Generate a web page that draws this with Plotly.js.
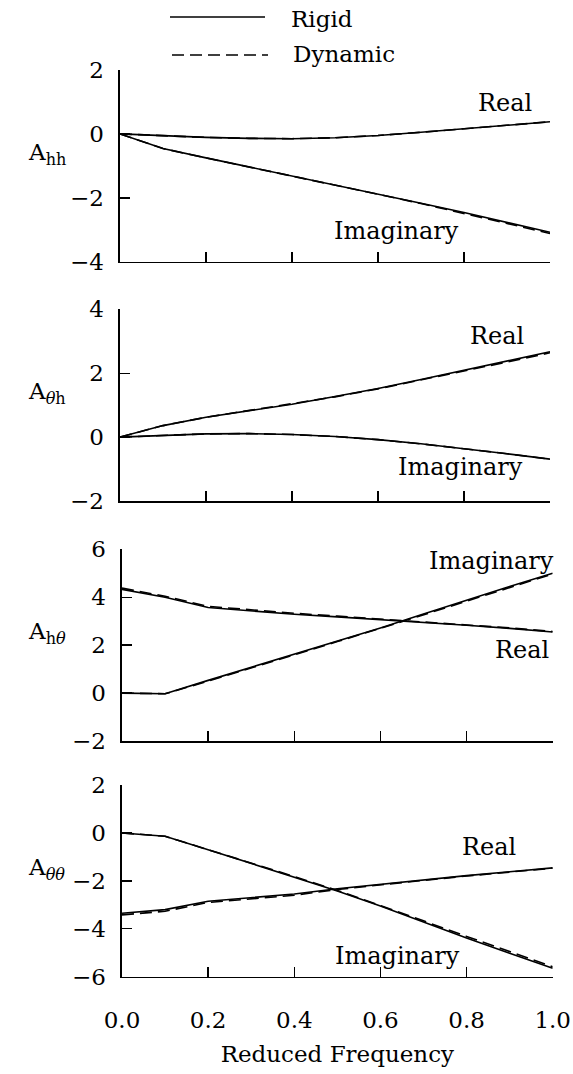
<!DOCTYPE html>
<html>
<head>
<meta charset="utf-8">
<script src="https://cdn.plot.ly/plotly-3.0.1.min.js"></script>
<style>
  html, body { margin: 0; padding: 0; background: #fff; }
  #chart { width: 573px; height: 1074px; }
</style>
</head>
<body>
<div id="chart"></div>
<script>
// reduced frequency samples
const freq = [0.0, 0.1, 0.2, 0.3, 0.4, 0.5, 0.6, 0.7, 0.8, 0.9, 1.0];

// A_hh
const hhRealRigid   = [0, -0.06, -0.11, -0.14, -0.15, -0.12, -0.05, 0.05, 0.16, 0.27, 0.38];
const hhRealDyn     = [0, -0.06, -0.11, -0.14, -0.15, -0.12, -0.05, 0.05, 0.16, 0.27, 0.38];
const hhImagRigid   = [0, -0.46, -0.75, -1.03, -1.32, -1.6, -1.89, -2.17, -2.46, -2.77, -3.08];
const hhImagDyn     = [0, -0.46, -0.75, -1.03, -1.32, -1.6, -1.89, -2.18, -2.48, -2.8, -3.12];

// A_theta h
const thRealRigid   = [0, 0.36, 0.62, 0.83, 1.03, 1.27, 1.52, 1.8, 2.09, 2.38, 2.67];
const thRealDyn     = [0, 0.36, 0.62, 0.83, 1.03, 1.26, 1.51, 1.78, 2.07, 2.35, 2.64];
const thImagRigid   = [0, 0.06, 0.1, 0.11, 0.08, 0.02, -0.08, -0.21, -0.36, -0.52, -0.69];
const thImagDyn     = [0, 0.06, 0.1, 0.11, 0.08, 0.02, -0.08, -0.21, -0.36, -0.52, -0.69];

// A_h theta
const htRealRigid   = [4.33, 4.0, 3.57, 3.42, 3.29, 3.18, 3.07, 2.95, 2.83, 2.7, 2.55];
const htRealDyn     = [4.38, 4.04, 3.62, 3.47, 3.33, 3.21, 3.09, 2.97, 2.85, 2.72, 2.57];
const htImagRigid   = [0, -0.03, 0.53, 1.07, 1.62, 2.17, 2.72, 3.3, 3.88, 4.45, 5.0];
const htImagDyn     = [0, -0.03, 0.5, 1.04, 1.6, 2.15, 2.7, 3.27, 3.85, 4.42, 4.97];

// A_theta theta
const ttRealRigid   = [-3.35, -3.2, -2.85, -2.7, -2.55, -2.33, -2.14, -1.96, -1.78, -1.62, -1.46];
const ttRealDyn     = [-3.42, -3.27, -2.9, -2.75, -2.6, -2.36, -2.16, -1.98, -1.8, -1.63, -1.47];
const ttImagRigid   = [0, -0.14, -0.7, -1.27, -1.84, -2.42, -3.05, -3.72, -4.38, -5.02, -5.65];
const ttImagDyn     = [0, -0.14, -0.7, -1.25, -1.82, -2.4, -3.02, -3.67, -4.32, -4.95, -5.58];

const yRanges = [[-4, 2], [-2, 4], [-2, 6], [-6, 2]];
const yTitles = ['A<sub>hh</sub>', 'A<sub><i>θ</i>h</sub>', 'A<sub>h<i>θ</i></sub>', 'A<sub><i>θθ</i></sub>'];
const xTicks = [0, 0.2, 0.4, 0.6, 0.8, 1.0];
const xTickText = ['0.0', '0.2', '0.4', '0.6', '0.8', '1.0'];

const FONT = 'DejaVu Serif';
const W = 573, H = 1074;

// pixel boxes of the four panels: [left, right, top, bottom]
const boxes = [
    [120, 550, 70, 261.7],
    [120, 550, 309.3, 501],
    [122, 552.7, 549.3, 741],
    [122, 552.7, 785, 976.7]
];

const panels = [
    [hhRealRigid, hhRealDyn, hhImagRigid, hhImagDyn],
    [thRealRigid, thRealDyn, thImagRigid, thImagDyn],
    [htRealRigid, htRealDyn, htImagRigid, htImagDyn],
    [ttRealRigid, ttRealDyn, ttImagRigid, ttImagDyn]
];

const solid = { color: '#000', width: 1.6, dash: 'solid' };
const dashed = { color: '#000', width: 1.6, dash: '12px,6px' };

const traces = [];
panels.forEach((series, i) => {
    const n = i === 0 ? '' : String(i + 1);
    series.forEach((ys, k) => {
        traces.push({
            x: freq, y: ys,
            xaxis: 'x' + n, yaxis: 'y' + n,
            type: 'scatter', mode: 'lines',
            line: k % 2 === 0 ? solid : dashed,
            hoverinfo: 'skip', showlegend: false
        });
    });
});

const layout = {
    width: W, height: H,
    margin: { l: 0, r: 0, t: 0, b: 0 },
    paper_bgcolor: '#fff', plot_bgcolor: '#fff',
    font: { family: FONT, size: 22, color: '#000' },
    showlegend: false,
    shapes: [],
    annotations: []
};

boxes.forEach((b, i) => {
    const n = i === 0 ? '' : String(i + 1);
    const isBottom = i === boxes.length - 1;
    layout['xaxis' + n] = {
        domain: [b[0] / W, b[1] / W],
        anchor: 'y' + n,
        range: [0, 1],
        showgrid: false, zeroline: false,
        showline: true, linecolor: '#000', linewidth: 1.6,
        ticks: 'inside', ticklen: 10, tickwidth: 1.4, tickcolor: '#000',
        tickvals: xTicks, ticktext: xTickText,
        showticklabels: isBottom,
        ticklabelstandoff: 22,
        tickfont: { family: FONT, size: 23 },
        title: isBottom ? { text: 'Reduced Frequency', font: { family: FONT, size: 23 }, standoff: 14 } : undefined
    };
    layout['yaxis' + n] = {
        domain: [1 - b[3] / H, 1 - b[2] / H],
        anchor: 'x' + n,
        range: yRanges[i],
        dtick: 2,
        showgrid: false, zeroline: false,
        showline: true, linecolor: '#000', linewidth: 1.6,
        ticks: 'inside', ticklen: 10, tickwidth: 1.4, tickcolor: '#000',
        ticklabelstandoff: 10,
        tickfont: { family: FONT, size: 23 }
    };
    layout.annotations.push({
        xref: 'paper', yref: 'paper',
        x: 26 / W, y: 1 - ((b[2] + b[3]) / 2 - 12) / H,
        xanchor: 'left', yanchor: 'middle',
        text: yTitles[i], showarrow: false,
        font: { family: FONT, size: 23 }
    });
});

// curve labels
const curveLabels = [
    ['', 0.895, 0.98, 'Real'],
    ['', 0.644, -3.04, 'Imaginary'],
    ['2', 0.877, 3.16, 'Real'],
    ['2', 0.793, -0.95, 'Imaginary'],
    ['3', 0.857, 5.51, 'Imaginary'],
    ['3', 0.929, 1.79, 'Real'],
    ['4', 0.853, -0.6, 'Real'],
    ['4', 0.64, -5.15, 'Imaginary']
];
curveLabels.forEach(([n, x, y, t]) => {
    layout.annotations.push({
        xref: 'x' + n, yref: 'y' + n, x: x, y: y,
        text: t, showarrow: false,
        font: { family: FONT, size: 24 }
    });
});

// legend drawn at the top
layout.shapes.push(
    { type: 'line', xref: 'paper', yref: 'paper', x0: 170 / W, x1: 265 / W, y0: 1 - 17 / H, y1: 1 - 17 / H, line: solid },
    { type: 'line', xref: 'paper', yref: 'paper', x0: 172 / W, x1: 268 / W, y0: 1 - 55 / H, y1: 1 - 55 / H, line: dashed }
);
layout.annotations.push(
    { xref: 'paper', yref: 'paper', x: 289 / W, y: 1 - 19 / H, xanchor: 'left', yanchor: 'middle', text: 'Rigid', showarrow: false, font: { family: FONT, size: 23 } },
    { xref: 'paper', yref: 'paper', x: 291 / W, y: 1 - 54 / H, xanchor: 'left', yanchor: 'middle', text: 'Dynamic', showarrow: false, font: { family: FONT, size: 23 } }
);

Plotly.newPlot('chart', traces, layout, { displayModeBar: false, staticPlot: true });
</script>
</body>
</html>
